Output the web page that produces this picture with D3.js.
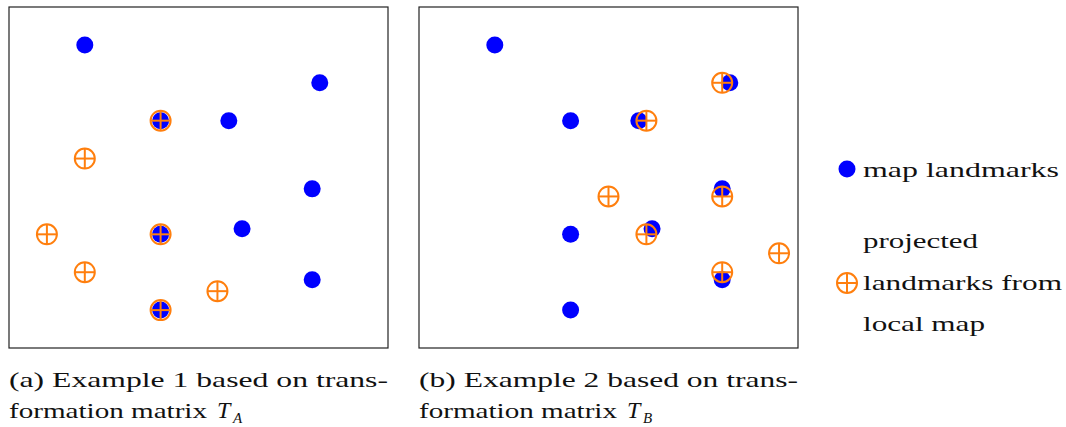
<!DOCTYPE html>
<html>
<head>
<meta charset="utf-8">
<script src="https://cdn.jsdelivr.net/npm/d3@7"></script>
<style>
  body { margin: 0; background: #fff; }
</style>
</head>
<body>
<script>
// landmark positions, in map units (x to the right, y upward)
var mapX = [2, 8.2, 5.8, 8, 6.15, 8, 4, 4, 4];
var mapY = [8, 7, 6, 4.2, 3.15, 1.8, 6, 3, 1];

var projAX = [4, 2, 1, 4, 2, 5.5, 4];
var projAY = [6, 5, 3, 3, 2, 1.5, 1];

var projBX = [8, 6, 5, 8, 6, 9.5, 8];
var projBY = [7, 6, 4, 4, 3, 2.5, 2];

var captionA = ["(a) Example 1 based on trans-", "formation matrix", "T", "A"];
var captionB = ["(b) Example 2 based on trans-", "formation matrix", "T", "B"];
var legendLabels = ["map landmarks", "projected", "landmarks from", "local map"];

var blue = "#0000ff", orange = "#ff7f0e";
var serif = "'Liberation Serif', 'Times New Roman', Tinos, 'DejaVu Serif', serif";

var svg = d3.select("body").append("svg")
    .attr("width", 1066)
    .attr("height", 427);

function zip(xs, ys) { return xs.map(function(x, i) { return [x, ys[i]]; }); }

function crossMarker(g, x, y, r) {
    g.append("circle").attr("cx", x).attr("cy", y).attr("r", r)
        .attr("fill", "none").attr("stroke", orange).attr("stroke-width", 2);
    g.append("line").attr("x1", x - r).attr("x2", x + r).attr("y1", y).attr("y2", y)
        .attr("stroke", orange).attr("stroke-width", 2);
    g.append("line").attr("x1", x).attr("x2", x).attr("y1", y - r).attr("y2", y + r)
        .attr("stroke", orange).attr("stroke-width", 2);
}

function label(g, x, y, s) {
    return g.append("text").attr("x", x).attr("y", y)
        .attr("font-family", serif).attr("font-size", 22).attr("fill", "#111")
        .text(s);
}

function panel(left, projX, projY, caption) {
    var x = d3.scaleLinear().domain([0, 10]).range([left, left + 379]);
    var y = d3.scaleLinear().domain([0, 9]).range([348, 7]);
    var g = svg.append("g");

    g.append("rect").attr("x", left).attr("y", 7).attr("width", 379).attr("height", 341)
        .attr("fill", "none").attr("stroke", "#222").attr("stroke-width", 1.2);

    g.selectAll("circle.map").data(zip(mapX, mapY)).enter()
        .append("circle").attr("class", "map")
        .attr("cx", function(d) { return x(d[0]); })
        .attr("cy", function(d) { return y(d[1]); })
        .attr("r", 8.5)
        .attr("fill", blue);

    zip(projX, projY).forEach(function(d) { crossMarker(g, x(d[0]), y(d[1]), 10); });

    label(g, left, 387, caption[0])
        .attr("textLength", 379).attr("lengthAdjust", "spacingAndGlyphs");
    label(g, left, 418, caption[1])
        .attr("textLength", 198).attr("lengthAdjust", "spacingAndGlyphs");
    label(g, left + 208, 418, caption[2]).attr("font-style", "italic").attr("font-size", 24);
    label(g, left + 224, 423, caption[3]).attr("font-style", "italic").attr("font-size", 15);
}

panel(9, projAX, projAY, captionA);
panel(419, projBX, projBY, captionB);

// legend
var leg = svg.append("g");
leg.append("circle").attr("cx", 847).attr("cy", 169).attr("r", 8.5).attr("fill", blue);
crossMarker(leg, 847, 283, 10);
var legY = [177, 248, 290, 331];
var legW = [196, 115, 199, 122];
legendLabels.forEach(function(s, i) {
    label(leg, 863, legY[i], s)
        .attr("textLength", legW[i]).attr("lengthAdjust", "spacingAndGlyphs");
});
</script>
</body>
</html>
